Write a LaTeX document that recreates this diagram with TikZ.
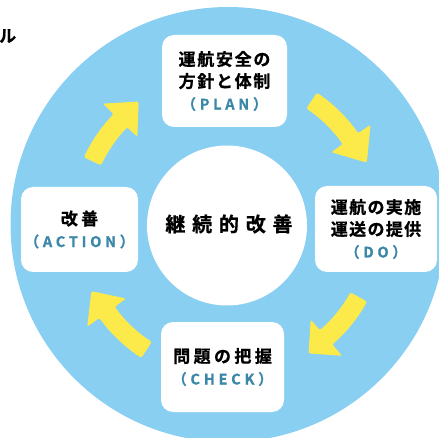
\documentclass[tikz,border=0pt]{standalone}
\usepackage{fontspec}
\setmainfont{Noto Sans CJK JP}[BoldFont={Noto Sans CJK JP Bold}, BoldFeatures={FakeBold=0.8}]
\definecolor{skyb}{HTML}{89CFF1}
\definecolor{tealtx}{HTML}{3A87A8}
\definecolor{yel}{HTML}{FCEA4A}
\newcommand\jptxt[2]{{\fontsize{17}{22}\selectfont\bfseries\addfontfeature{LetterSpace=#1}#2}}
\newcommand\entxt[1]{{\fontsize{14.5}{22}\selectfont\bfseries\color{tealtx}\addfontfeature{LetterSpace=26}#1}}
\newcommand\yarrow[3]{%
  \begin{scope}[shift={(C)}]
  \fill[yel, rounded corners=2pt] (-#1:140) arc[start angle=-#1, end angle=-#2, radius=140]
    -- (-#2:126) -- (-#3:152) -- (-#2:174) -- (-#2:159)
    arc[start angle=-#2, end angle=-#1, radius=159] -- cycle;
  \end{scope}}
\begin{document}
\begin{tikzpicture}[x=1pt,y=-1pt,
  stagebox/.style={fill=white, rounded corners=12pt, inner sep=0pt, align=center},
  every node/.append style={font=\fontsize{17}{22}\selectfont}]
\useasboundingbox (0,0) rectangle (439,438);
\coordinate (C) at (228,224.5);
\fill[skyb] (C) circle[radius=217.5];
\node[anchor=west, inner sep=0pt] (title) at (-1,36) {\jptxt{0}{ル}};
% arrows
\yarrow{56}{35}{24}
\yarrow{-29}{-49}{-58}
\yarrow{237}{216}{206}
\yarrow{155}{136}{126}
% core
\node[circle, fill=white, minimum size=160pt, inner sep=0pt] (core) at (227,225.5) {};
\node (coretxt) at (229,224) {{\fontsize{20}{22}\selectfont\bfseries\addfontfeature{LetterSpace=34}継続的改善}};
% stages
\node[stagebox, minimum width=125, minimum height=92] (plan) at (224.5,81)
  {\jptxt{10}{運航安全の}\\\jptxt{10}{方針と体制}\\\entxt{（PLAN）}};
\node[stagebox, minimum width=122, minimum height=86] (do) at (376,229)
  {\jptxt{8}{運航の実施}\\\jptxt{8}{運送の提供}\\\entxt{（DO）}};
\node[stagebox, minimum width=123, minimum height=90] (check) at (222.5,367)
  {\jptxt{20}{問題の把握}\\\entxt{（CHECK）}};
\node[stagebox, minimum width=117, minimum height=85] (act) at (79.5,229.5)
  {\jptxt{20}{改善}\\\entxt{（ACTION）}};
\end{tikzpicture}
\end{document}
